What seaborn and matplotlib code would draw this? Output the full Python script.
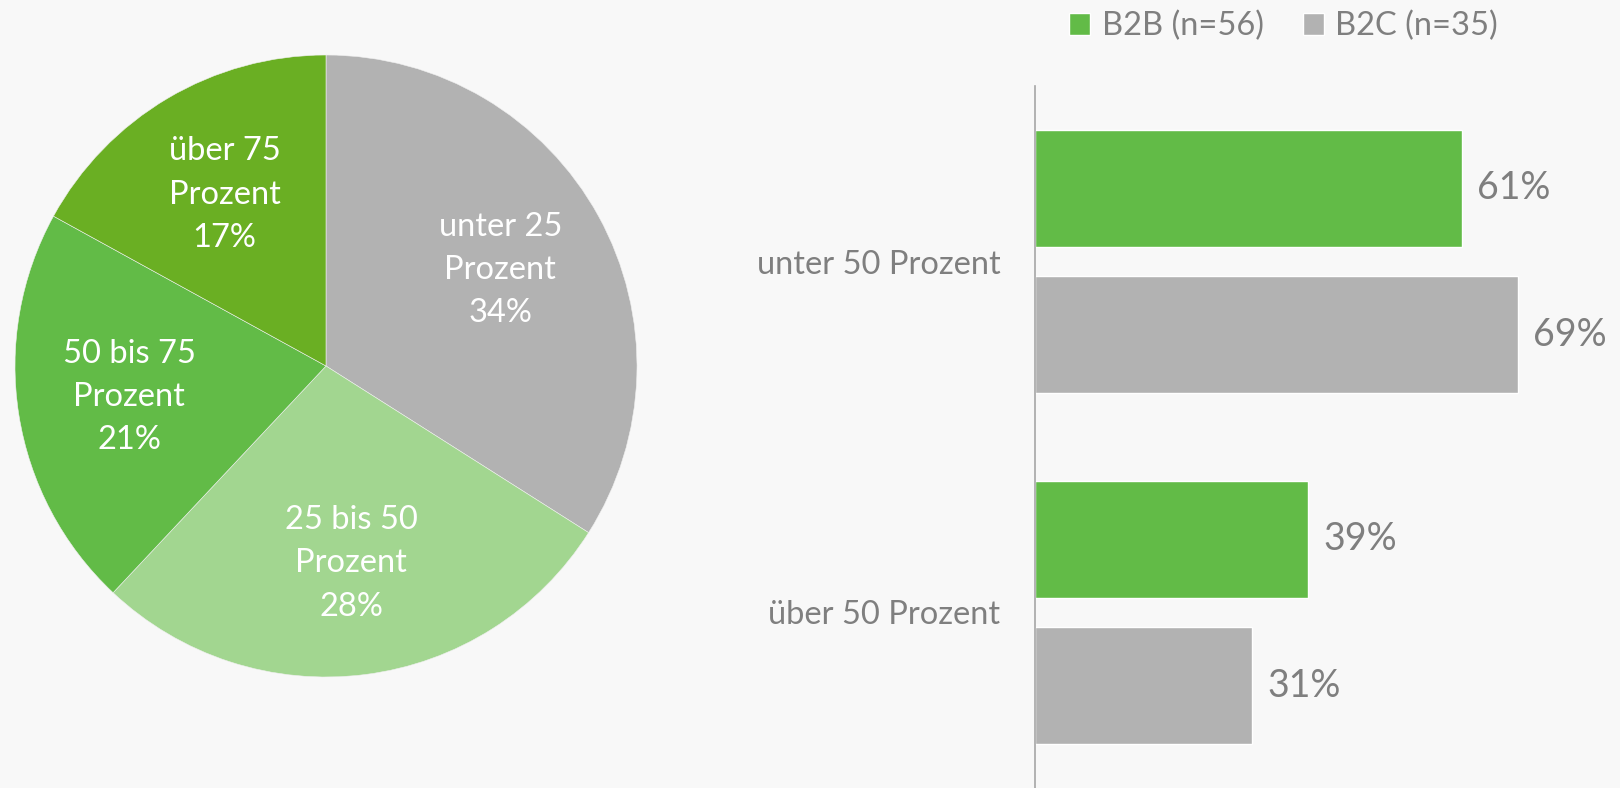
import numpy as np
import pandas as pd
import matplotlib
matplotlib.use("Agg")
import matplotlib.pyplot as plt
import seaborn as sns

sns.set_style("white")
plt.rcParams['font.family'] = ['Lato', 'DejaVu Sans']

# Pie: Anteil ... (Prozent)
pie_labels = ["unter 25\nProzent", "25 bis 50\nProzent", "50 bis 75\nProzent", "über 75\nProzent"]
pie_values = [34, 28, 21, 17]
pie_colors = ["#B2B2B2", "#A2D690", "#62BB47", "#6AAF23"]

# Bars: B2B vs B2C
bar_categories = ["unter 50 Prozent", "über 50 Prozent"]
b2b_values = [61, 39]
b2c_values = [69, 31]
groups = ["B2B (n=56)", "B2C (n=35)"]
bar_colors = ["#62BB47", "#B2B2B2"]

bg = "#F8F8F8"
text_gray = "#7F7F7F"

W, H = 1620, 788
fig = plt.figure(figsize=(W / 100, H / 100), dpi=100, facecolor=bg)

# ---- pie ----
cx, cy, r = 326, 366, 311
ax_pie = fig.add_axes([(cx - r) / W, (H - cy - r) / H, 2 * r / W, 2 * r / H])
ax_pie.set_facecolor(bg)
labels = ["{}\n{}%".format(l, v) for l, v in zip(pie_labels, pie_values)]
wedges, texts = ax_pie.pie(pie_values, labels=labels, colors=pie_colors, startangle=90,
                           counterclock=False, labeldistance=0.64,
                           wedgeprops=dict(linewidth=0.4, edgecolor="#F0F0F0"))
for t in texts:
    t.set_ha("center")
    t.set_va("center")
    t.set_color("white")
    t.set_fontsize(23.5)
    t.set_linespacing(1.55)
ax_pie.set_xlim(-1, 1)
ax_pie.set_ylim(-1, 1)
ax_pie.set_aspect("equal")

# ---- bars ----
df = pd.DataFrame({
    "Kategorie": bar_categories * 2,
    "Gruppe": [groups[0]] * len(bar_categories) + [groups[1]] * len(bar_categories),
    "Wert": b2b_values + b2c_values,
})

x0 = 1035
top = 86
px_per_pct = 7.0
ax = fig.add_axes([x0 / W, 0, (W - x0) / W, (H - top) / H])
ax.set_facecolor(bg)
sns.barplot(data=df, y="Kategorie", x="Wert", hue="Gruppe", palette=bar_colors,
            orient="h", width=0.833, gap=0.2, saturation=1, errorbar=None, ax=ax)
ax.set_xlim(0, (W - x0) / px_per_pct)
ax.set_ylim(1.5, -0.5)

for c in ax.containers:
    ax.bar_label(c, fmt="{:.0f}%", padding=11, fontsize=27, color=text_gray)

for s in ["top", "right", "bottom"]:
    ax.spines[s].set_visible(False)
ax.spines["left"].set_color("#A6A6A6")
ax.spines["left"].set_linewidth(1.2)
ax.set_xticks([])
ax.set_xlabel("")
ax.set_ylabel("")
ax.tick_params(axis="y", length=0, pad=25, labelsize=23.5, labelcolor=text_gray)

sns.move_legend(ax, "center left", bbox_to_anchor=(1069 / W, 1 - 26 / H),
                bbox_transform=fig.transFigure, ncol=2, frameon=False, title=None,
                fontsize=23.5, handlelength=0.65, handleheight=0.65, handletextpad=0.35,
                columnspacing=1.2, borderpad=0, borderaxespad=0)
for t in ax.get_legend().get_texts():
    t.set_color(text_gray)

fig.savefig("out.png", dpi=100, facecolor=bg)
